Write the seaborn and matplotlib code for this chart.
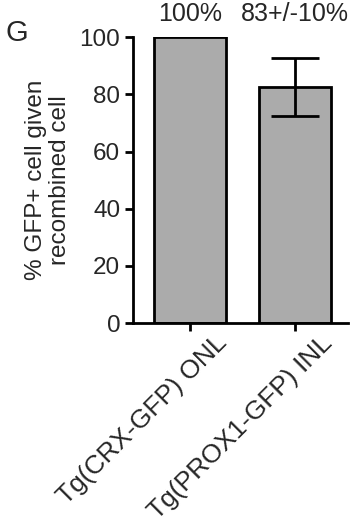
import numpy as np
import pandas as pd
import matplotlib
matplotlib.use('Agg')
import matplotlib.pyplot as plt
import matplotlib.transforms as mtransforms
import seaborn as sns

# data
categories = ['Tg(CRX-GFP) ONL', 'Tg(PROX1-GFP) INL']
values = [100, 82.5]
errors = [0, 10]
top_labels = ['100%', '83+/-10%']

sns.set_style('ticks')
plt.rcParams['font.family'] = ['Liberation Sans', 'DejaVu Sans']

df = pd.DataFrame({'group': categories, 'pct': values})

fig = plt.figure(figsize=(3.6, 5.29), dpi=100)
ax = fig.add_axes([0.369, 0.389, 0.598, 0.541])

sns.barplot(data=df, x='group', y='pct', color='#ababab', saturation=1,
            edgecolor='black', linewidth=2, width=0.68, errorbar=None, ax=ax)

xs = np.arange(len(categories))
for x, v, e in zip(xs, values, errors):
    if e > 0:
        ax.errorbar(x, v, yerr=e, color='black', capsize=17, capthick=2,
                    elinewidth=2, clip_on=False)

ax.set_ylim(0, 100)
ax.set_xlim(-0.54, 1.50)
ax.set_yticks([0, 20, 40, 60, 80, 100])
ax.set_xlabel('')
ax.set_ylabel('% GFP+ cell given\nrecombined cell', fontsize=17.5, labelpad=6,
              linespacing=1.15)
ax.tick_params(axis='both', labelsize=17.5, width=2, length=6, color='black',
               pad=3)
# rotated labels, shifted a bit right like the original
shift = mtransforms.ScaledTranslation(25 / 100, 5 / 100, fig.dpi_scale_trans)
for lab in ax.get_xticklabels():
    lab.set_rotation(45)
    lab.set_ha('right')
    lab.set_rotation_mode('anchor')
    lab.set_fontsize(19)
    lab.set_transform(lab.get_transform() + shift)
sns.despine(ax=ax)
for s in ['left', 'bottom']:
    ax.spines[s].set_linewidth(2)
    ax.spines[s].set_color('black')

for x, t in zip(xs, top_labels):
    ax.text(x, 104, t, ha='center', va='bottom', fontsize=18)

fig.text(0.015, 0.938, 'G', fontsize=21, ha='left', va='center')

fig.savefig('out.png', dpi=100)
